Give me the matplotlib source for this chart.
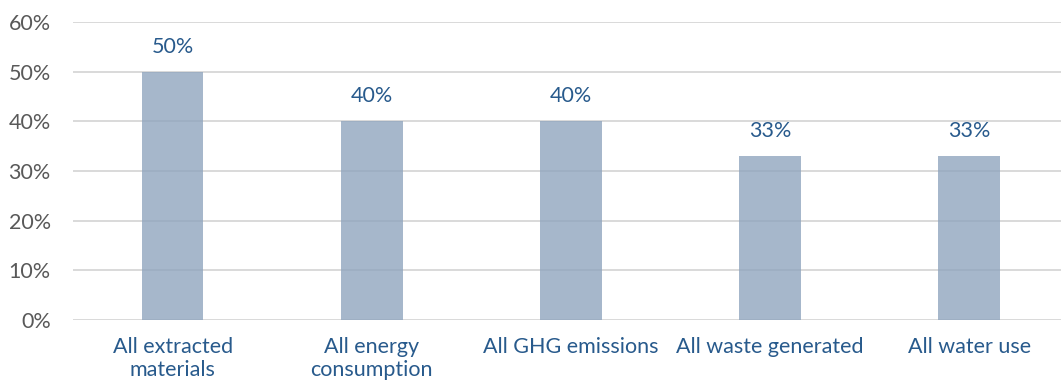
import matplotlib
matplotlib.use('Agg')
import matplotlib.pyplot as plt
from matplotlib.ticker import FuncFormatter

categories = ['All extracted\nmaterials', 'All energy\nconsumption', 'All GHG emissions',
              'All waste generated', 'All water use']
values = [50, 40, 40, 33, 33]
y_ticks = [0, 10, 20, 30, 40, 50, 60]

plt.rcParams['font.family'] = ['Lato', 'DejaVu Sans']

blue_text = '#285A8C'
grey_text = '#595959'
fs = 15.5

fig = plt.figure(figsize=(10.61, 3.90), dpi=100)
ax = fig.add_axes([0.0688, 0.1795, 0.9312, 0.7641])

x = range(len(categories))
bars = ax.bar(x, values, width=0.31, color='#8DA3BD', alpha=0.78, zorder=3)

for b, v in zip(bars, values):
    ax.annotate(f'{v}%', (b.get_x() + b.get_width() / 2, v), xytext=(0, 18),
                textcoords='offset points', ha='center', va='center',
                fontsize=fs, color=blue_text)

ax.set_ylim(0, 60)
ax.set_xlim(-0.5, 4.46)
ax.set_yticks(y_ticks)
ax.yaxis.set_major_formatter(FuncFormatter(lambda v, _: f'{v:.0f}%'))
ax.set_xticks(list(x), labels=categories)
ax.grid(axis='y', color='#D9D9D9', linewidth=1.4, zorder=1)
for s in ax.spines.values():
    s.set_visible(False)
ax.tick_params(axis='y', length=0, pad=16, labelsize=fs, labelcolor=grey_text)
ax.tick_params(axis='x', length=0, pad=12, labelsize=fs, labelcolor=blue_text)

fig.savefig('out.png', dpi=100)
